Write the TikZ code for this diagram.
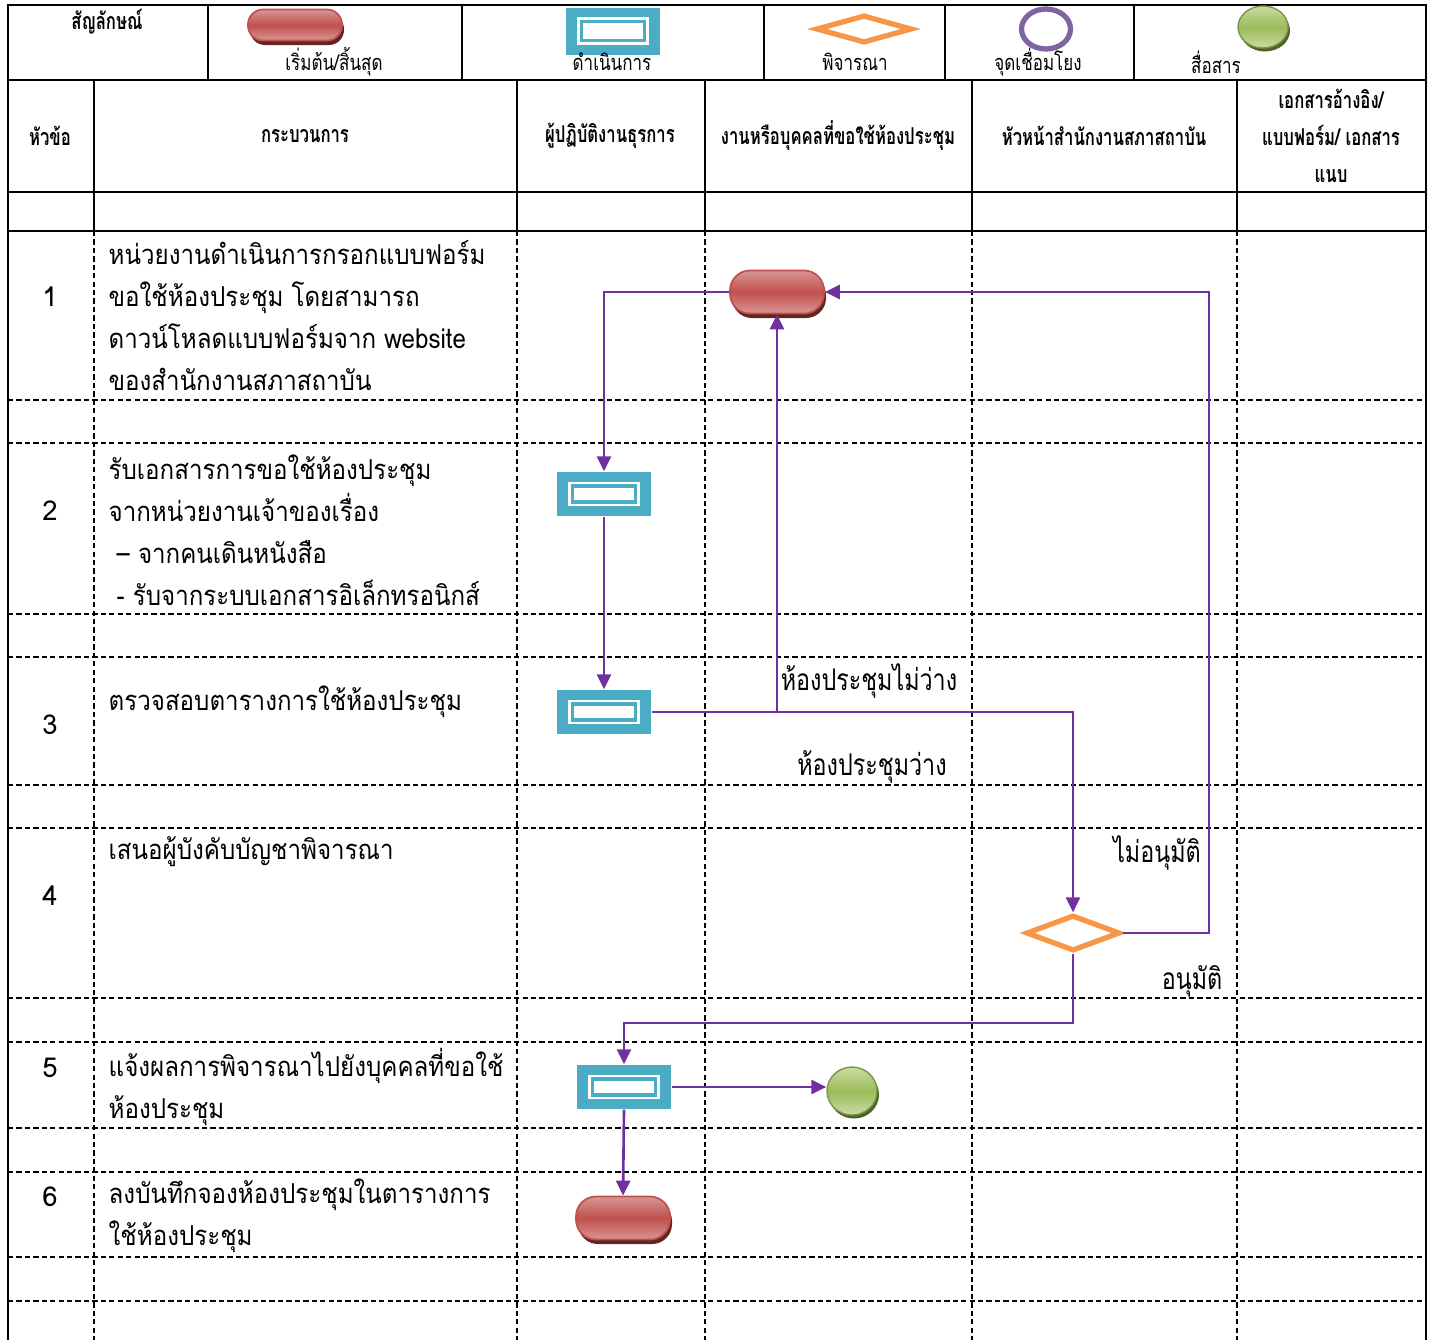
\documentclass[tikz,border=0pt]{standalone}
\usepackage{fontspec}
\setmainfont[Script=Thai]{Loma}
\newfontfamily\headfont[Script=Thai,FakeStretch=0.72]{Loma}
\newfontfamily\condfont[Script=Thai,FakeStretch=0.78]{Loma}
\newfontfamily\bodyfont[Script=Thai,FakeStretch=0.88]{Loma}
\usetikzlibrary{shapes.geometric, arrows.meta, positioning, shadows}

\definecolor{flowline}{HTML}{7030A0}
\definecolor{termred}{HTML}{C0504D}
\definecolor{termlight}{HTML}{DA9694}
\definecolor{termdark}{HTML}{632523}
\definecolor{procblue}{HTML}{4BACC6}
\definecolor{decorange}{HTML}{F79646}
\definecolor{linkpurple}{HTML}{8064A2}
\definecolor{commgreen}{HTML}{9BBB59}
\definecolor{commlight}{HTML}{C9DCA4}
\definecolor{commdark}{HTML}{4F6228}

\tikzset{
    tableline/.style={line width=0.8pt},
    gridline/.style={line width=0.4pt, dash pattern=on 1.5pt off 0.9pt},
    terminal/.style={rectangle, rounded corners=2mm, minimum width=9.4mm, minimum height=4.3mm,
        draw=termred, line width=0.5pt, top color=termlight, bottom color=termlight, middle color=termred,
        drop shadow={shadow xshift=0.2mm, shadow yshift=-0.45mm, fill=termdark, opacity=1}},
    process/.style={rectangle, fill=procblue, minimum width=9.4mm, minimum height=4.4mm, inner sep=0,
        path picture={
            \draw[white, fill=white] ([shift={(1.2mm,-1.05mm)}]path picture bounding box.north west)
                rectangle ([shift={(-1.2mm,1.05mm)}]path picture bounding box.south east);
            \draw[procblue, line width=0.9pt] ([shift={(1.55mm,-1.4mm)}]path picture bounding box.north west)
                rectangle ([shift={(-1.55mm,1.4mm)}]path picture bounding box.south east);
        }},
    decision/.style={diamond, aspect=2.6, minimum width=9.4mm, minimum height=3.6mm, inner sep=0,
        draw=decorange, line width=1.5pt, fill=white},
    linkpoint/.style={ellipse, minimum width=4.9mm, minimum height=4.0mm, draw=linkpurple, line width=1.5pt},
    comm/.style={ellipse, minimum width=5mm, minimum height=4.8mm, draw=commgreen!80!black, line width=0.4pt,
        top color=commlight, bottom color=commlight, middle color=commgreen,
        drop shadow={shadow xshift=0.2mm, shadow yshift=-0.35mm, fill=commdark, opacity=1}},
    flow/.style={draw=flowline, line width=0.75pt, -{Triangle[length=1.5mm, width=1.4mm]}},
    headtext/.style={font=\headfont\bfseries\fontsize{6.6}{10.5}\selectfont, align=center, inner sep=0},
    legendtext/.style={font=\condfont\fontsize{6.2}{8}\selectfont, inner sep=0},
    labeltext/.style={font=\condfont\fontsize{8.5}{11}\selectfont, inner sep=0},
    numtext/.style={font=\fontsize{7.8}{11.95}\selectfont, inner sep=0},
    steptext/.style={font=\bodyfont\fontsize{7.8}{11.95}\selectfont, anchor=west, align=left, inner sep=0}
}

\begin{document}
\begin{tikzpicture}[x=0.1mm, y=-0.1mm]
    \useasboundingbox (0,0) rectangle (1434,1340);

    % Legend row
    \draw[tableline] (8,5) rectangle (1426,80);
    \foreach \x in {208,462,764,945,1134} {
        \draw[tableline] (\x,5) -- (\x,80);
    }
    \node[headtext] (legtitle) at (107,22) {สัญลักษณ์};
    \node[terminal, minimum height=3.1mm, rounded corners=1.5mm] (legterm) at (295,25) {};
    \node[legendtext] (legtermtext) at (334,62) {เริ่มต้น/สิ้นสุด};
    \node[process, minimum height=4.7mm] (legproc) at (613,31) {};
    \node[legendtext] (legproctext) at (612,62) {ดำเนินการ};
    \node[decision, minimum width=9.6mm, minimum height=2.8mm] (legdec) at (864,29) {};
    \node[legendtext] (legdectext) at (855,62) {พิจารณา};
    \node[linkpoint] (leglink) at (1046,29) {};
    \node[legendtext] (leglinktext) at (1038,62) {จุดเชื่อมโยง};
    \node[comm, minimum height=4.2mm] (legcomm) at (1263,27) {};
    \node[legendtext] (legcommtext) at (1216,62) {สื่อสาร};

    % Column headers
    \draw[tableline] (8,192) -- (1426,192);
    \draw[tableline] (8,231) -- (1426,231);
    \draw[tableline] (8,80) -- (8,1340);
    \draw[tableline] (1426,80) -- (1426,1340);
    \foreach \x in {94,517,705,972,1237} {
        \draw[tableline] (\x,80) -- (\x,231);
        \draw[gridline] (\x,231) -- (\x,1340);
    }
    \node[headtext] (hnum) at (50,136) {หัวข้อ};
    \node[headtext] (hstep) at (305,136) {กระบวนการ};
    \node[headtext] (hclerk) at (610,136) {ผู้ปฏิบัติงานธุรการ};
    \node[headtext] (hreq) at (838,136) {งานหรือบุคคลที่ขอใช้ห้องประชุม};
    \node[headtext] (hhead) at (1104,136) {หัวหน้าสำนักงานสภาสถาบัน};
    \node[headtext] (hdoc) at (1331,136) {เอกสารอ้างอิง/\\แบบฟอร์ม/ เอกสาร\\แนบ};

    % Row lines
    \foreach \y in {400,443,614,657,785,828,998,1042,1128,1172,1257,1301} {
        \draw[gridline] (8,\y) -- (1426,\y);
    }

    % Steps
    \foreach \n/\y in {1/297,2/511,3/725,4/896,5/1068,6/1197} {
        \node[numtext] (num\n) at (50,\y) {\n};
    }
    \node[steptext] (step1) at (108,316) {หน่วยงานดำเนินการกรอกแบบฟอร์ม\\ขอใช้ห้องประชุม โดยสามารถ\\ดาวน์โหลดแบบฟอร์มจาก website\\ของสำนักงานสภาสถาบัน};
    \node[steptext] (step2) at (108,530) {รับเอกสารการขอใช้ห้องประชุม\\จากหน่วยงานเจ้าของเรื่อง\\\hspace{0.8mm}– จากคนเดินหนังสือ\\\hspace{0.8mm}- รับจากระบบเอกสารอิเล็กทรอนิกส์};
    \node[steptext] (step3) at (108,702) {ตรวจสอบตารางการใช้ห้องประชุม};
    \node[steptext] (step4) at (108,852) {เสนอผู้บังคับบัญชาพิจารณา};
    \node[steptext] (step5) at (108,1087) {แจ้งผลการพิจารณาไปยังบุคคลที่ขอใช้\\ห้องประชุม};
    \node[steptext] (step6) at (108,1216) {ลงบันทึกจองห้องประชุมในตารางการ\\ใช้ห้องประชุม};

    % Flow shapes
    \node[terminal] (start) at (777,292) {};
    \node[process] (receive) at (604,494) {};
    \node[process] (check) at (604,712) {};
    \node[decision] (approve) at (1073,933) {};
    \node[process] (notify) at (624,1087) {};
    \node[comm] (inform) at (852,1091) {};
    \node[terminal] (finish) at (623,1218) {};

    % Turning points
    \coordinate (busy) at (start.south |- check.east);
    \coordinate (rejectx) at (1209,0);
    \coordinate (okturn) at (1073,1023);

    % Connectors
    \draw[flow] (start.west) -| (receive.north);
    \draw[flow] (receive.south) -- (check.north);
    \draw[flow] (check.east) -| (approve.north);
    \draw[flow] (busy) -- (start.south);
    \draw[flow] (approve.east) -| (rejectx |- start.east) -- (start.east);
    \draw[flow] (approve.south) -- (okturn) -| (notify.north);
    \draw[flow] (notify.east) -- (notify.east -| inform.west);
    \draw[flow] (notify.south) -- (finish.north);

    % Connector labels
    \node[labeltext] (lblbusy) at (869,681) {ห้องประชุมไม่ว่าง};
    \node[labeltext] (lblfree) at (872,767) {ห้องประชุมว่าง};
    \node[labeltext] (lblreject) at (1157,853) {ไม่อนุมัติ};
    \node[labeltext] (lblok) at (1192,981) {อนุมัติ};
\end{tikzpicture}
\end{document}
